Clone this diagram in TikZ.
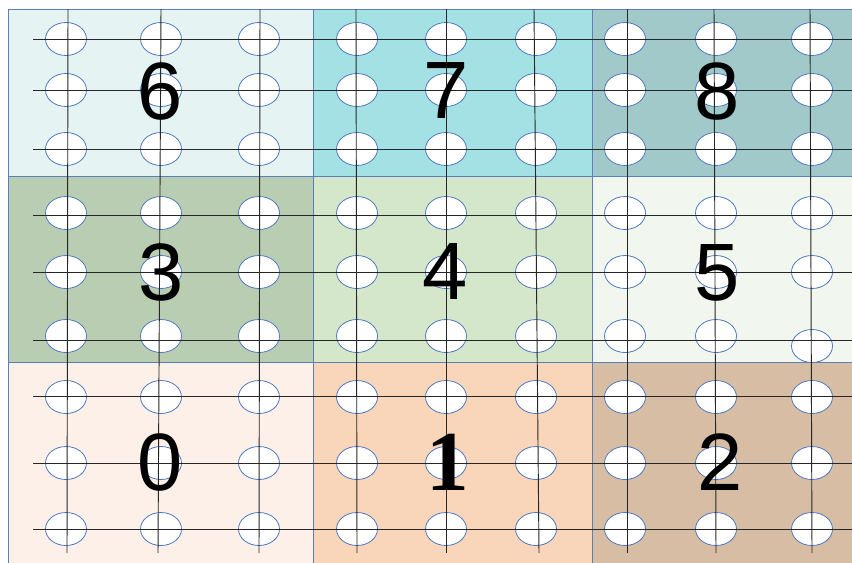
\documentclass[tikz,border=0pt]{standalone}
\usepackage{fontspec}
\setmainfont{Liberation Sans}
\newfontfamily\onefont{Liberation Serif}
\usepackage{xcolor}
\usepackage{tikz}
\usetikzlibrary{positioning}
\definecolor{cellline}{HTML}{5B7FB8}
\definecolor{holeline}{HTML}{4F78BE}
\definecolor{zone0}{HTML}{FDF0E8}
\definecolor{zone1}{HTML}{F9D5BA}
\definecolor{zone2}{HTML}{D6BDA3}
\definecolor{zone3}{HTML}{B9CDB2}
\definecolor{zone4}{HTML}{D4E7CA}
\definecolor{zone5}{HTML}{F1F7EE}
\definecolor{zone6}{HTML}{E5F3F3}
\definecolor{zone7}{HTML}{A3E1E5}
\definecolor{zone8}{HTML}{A2C9CA}
\tikzset{
  zone/.style={draw=cellline, line width=0.7pt, fill=#1},
  hole/.style={draw=holeline, line width=0.6pt, fill=white},
  gridline/.style={draw=black!85, line width=0.7pt},
  num/.style={font=\fontsize{61}{61}\selectfont, inner sep=0pt, text=black},
}

\begin{document}
\begin{tikzpicture}[x=0.75pt, y=-0.75pt]
\useasboundingbox (0,0) rectangle (852,562);
\clip (0,0) rectangle (852,562);

% ZONES
\path[zone=zone6] (8,9) rectangle (313,176);
\path[zone=zone7] (313,9) rectangle (592,176);
\path[zone=zone8] (592,9) rectangle (860,176);
\path[zone=zone3] (8,176) rectangle (313,362);
\path[zone=zone4] (313,176) rectangle (592,362);
\path[zone=zone5] (592,176) rectangle (860,362);
\path[zone=zone0] (8,362) rectangle (313,570);
\path[zone=zone1] (313,362) rectangle (592,570);
\path[zone=zone2] (592,362) rectangle (860,570);

% HOLES
\foreach \y in {39,90,149,213,272,397,463,529}
  \foreach \x in {66,161,259,357,446,536,625,716,812}
    \path[hole] (\x,\y) ellipse [x radius=20.5, y radius=16.5];
\foreach \x in {66,161,259,357,446,536,625,716}
  \path[hole] (\x,336) ellipse [x radius=20.5, y radius=16.5];
\path[hole] (812,346) ellipse [x radius=20.5, y radius=16.5];

% GRID
\foreach \y in {39,90,149,215,272,340,396,463,529}
  \draw[gridline] (33,\y) -- (852,\y);
\foreach \xa/\xb in {68/67,161/158,260/259,356/357,446/446,534/539,627/627,714/716,810/812}
  \draw[gridline] (\xa,9) -- (\xb,553);

% LABELS
\node[num] (n6) at (160,91) {6};
\node[num] (n7) at (446,91) {7};
\node[num] (n8) at (717,91) {8};
\node[num] (n3) at (161,272) {3};
\node[num] (n4) at (445,272) {4};
\node[num] (n5) at (717,273) {5};
\node[num] (n0) at (160,462) {0};
\node[num, font=\onefont\bfseries\fontsize{64}{64}\selectfont] (n1) at (448,462) {1};
\node[num] (n2) at (720,462) {2};

\end{tikzpicture}
\end{document}
